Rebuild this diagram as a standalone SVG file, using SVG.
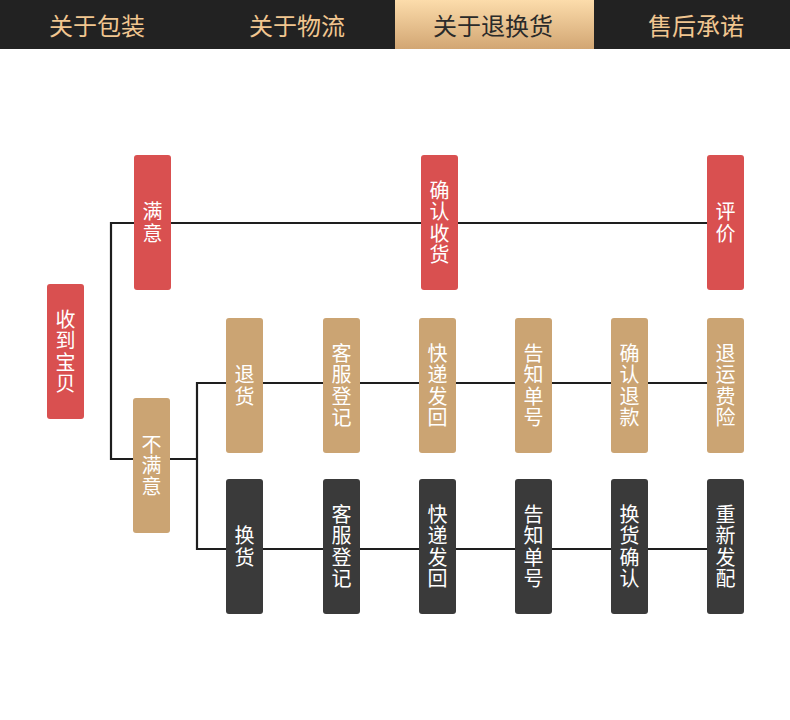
<svg xmlns="http://www.w3.org/2000/svg" width="790" height="720" viewBox="0 0 790 720">
<defs>
<linearGradient id="tabGrad" x1="0" y1="0" x2="0" y2="1">
<stop offset="0" stop-color="#fcdcab"/>
<stop offset="1" stop-color="#d2a673"/>
</linearGradient>
<style>
.tab{font-family:"Noto Sans CJK SC","Noto Sans",sans-serif;font-size:24px;fill:#f1c690;text-anchor:middle;dominant-baseline:central}
.tab.on{fill:#2a2a2a}
.lbl{font-family:"Noto Sans CJK SC","Noto Sans",sans-serif;font-size:20px;fill:#ffffff;text-anchor:middle;writing-mode:vertical-rl;letter-spacing:1.3px}
.red{fill:#d95050}
.tan{fill:#cba473}
.dark{fill:#3a3a3a}
.wire{fill:none;stroke:#1e1e1e;stroke-width:2.2}
</style>
</defs>
<rect width="790" height="720" fill="#ffffff"/>
<g id="header">
<rect x="0" y="0" width="790" height="49" fill="#222222"/>
<rect x="395" y="0" width="199" height="49" fill="url(#tabGrad)"/>
<text class="tab" x="97" y="24.5">关于包装</text>
<text class="tab" x="297" y="24.5">关于物流</text>
<text class="tab on" x="493" y="24.5">关于退换货</text>
<text class="tab" x="696" y="24.5">售后承诺</text>
</g>
<g id="connectors">
<polyline class="wire" points="707,223 111,223 111,459 197,459"/>
<polyline class="wire" points="707,383 197,383 197,549 707,549"/>
</g>
<g id="n-receive"><rect class="red" x="47" y="284" width="37" height="135" rx="3"/><text class="lbl" x="65.5" y="352">收到宝贝</text></g>
<g id="n-satisfied"><rect class="red" x="134" y="155" width="37" height="135" rx="3"/><text class="lbl" x="152.5" y="223">满意</text></g>
<g id="n-confirm-receipt"><rect class="red" x="421" y="155" width="37" height="135" rx="3"/><text class="lbl" x="439.5" y="223">确认收货</text></g>
<g id="n-review"><rect class="red" x="707" y="155" width="37" height="135" rx="3"/><text class="lbl" x="725.5" y="223">评价</text></g>
<g id="n-unsatisfied"><rect class="tan" x="133" y="398" width="37" height="135" rx="3"/><text class="lbl" x="151.5" y="466">不满意</text></g>
<g id="n-return"><rect class="tan" x="226" y="318" width="37" height="135" rx="3"/><text class="lbl" x="244.5" y="386">退货</text></g>
<g id="n-return-cs"><rect class="tan" x="323" y="318" width="37" height="135" rx="3"/><text class="lbl" x="341.5" y="386">客服登记</text></g>
<g id="n-return-ship"><rect class="tan" x="419" y="318" width="37" height="135" rx="3"/><text class="lbl" x="437.5" y="386">快递发回</text></g>
<g id="n-return-notify"><rect class="tan" x="515" y="318" width="37" height="135" rx="3"/><text class="lbl" x="533.5" y="386">告知单号</text></g>
<g id="n-return-refund"><rect class="tan" x="611" y="318" width="37" height="135" rx="3"/><text class="lbl" x="629.5" y="386">确认退款</text></g>
<g id="n-return-insurance"><rect class="tan" x="707" y="318" width="37" height="135" rx="3"/><text class="lbl" x="725.5" y="386">退运费险</text></g>
<g id="n-exchange"><rect class="dark" x="226" y="479" width="37" height="135" rx="3"/><text class="lbl" x="244.5" y="547">换货</text></g>
<g id="n-exchange-cs"><rect class="dark" x="323" y="479" width="37" height="135" rx="3"/><text class="lbl" x="341.5" y="547">客服登记</text></g>
<g id="n-exchange-ship"><rect class="dark" x="419" y="479" width="37" height="135" rx="3"/><text class="lbl" x="437.5" y="547">快递发回</text></g>
<g id="n-exchange-notify"><rect class="dark" x="515" y="479" width="37" height="135" rx="3"/><text class="lbl" x="533.5" y="547">告知单号</text></g>
<g id="n-exchange-confirm"><rect class="dark" x="611" y="479" width="37" height="135" rx="3"/><text class="lbl" x="629.5" y="547">换货确认</text></g>
<g id="n-exchange-resend"><rect class="dark" x="707" y="479" width="37" height="135" rx="3"/><text class="lbl" x="725.5" y="547">重新发配</text></g>
</svg>
